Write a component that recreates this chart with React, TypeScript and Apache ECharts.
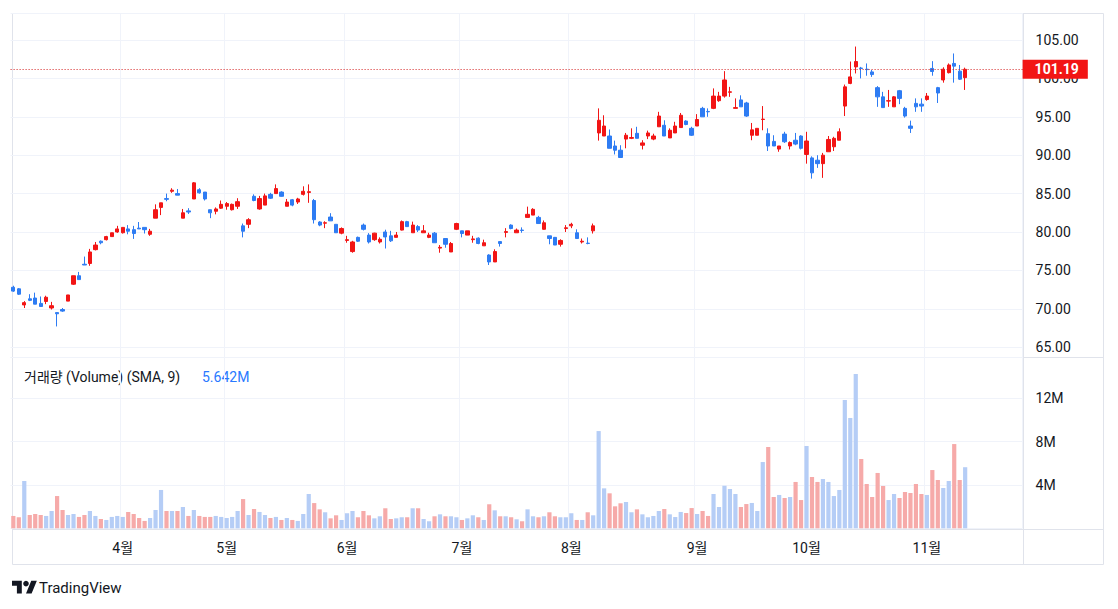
import { useEffect, useRef } from 'react';
import * as echarts from 'echarts';

// ---------- data ----------
const open = [
  72.8, 72.6, 70.5, 71.3, 71.4, 70.7, 70.95, 70.1, 69.5, 69.9,
  71.0, 73.2, 74.3, 75.8, 75.9, 77.7, 78.8, 79.0, 79.4, 80.0,
  79.9, 80.4, 80.3, 80.5, 80.6, 79.7, 81.8, 83.2, 84.35, 85.3,
  85.0, 81.8, 82.75, 84.3, 85.5, 85.2, 82.9, 82.7, 83.1, 83.35,
  82.9, 83.35, 80.8, 81.0, 84.65, 83.0, 83.5, 84.9, 85.0, 85.2,
  83.35, 84.2, 83.9, 84.9, 85.15, 84.1, 81.3, 81.15, 81.95, 81.0,
  79.85, 78.9, 77.45, 79.3, 80.9, 79.6, 79.0, 78.7, 80.0, 79.5,
  79.3, 80.25, 81.35, 79.9, 80.7, 79.9, 79.3, 79.85, 77.9, 79.15,
  77.4, 80.35, 80.15, 79.6, 79.0, 79.2, 78.2, 77.0, 76.1, 78.75,
  79.95, 80.9, 79.9, 80.25, 81.9, 82.2, 81.9, 80.35, 79.5, 79.3,
  78.4, 80.45, 80.8, 79.9, 78.7, 78.55, 80.15, 92.9, 92.5, 92.5,
  91.2, 90.65, 92.1, 92.2, 92.85, 91.3, 92.5, 92.1, 93.7, 93.9,
  92.25, 92.9, 93.6, 94.45, 93.5, 93.8, 96.1, 95.7, 96.1, 97.1,
  97.7, 98.2, 96.1, 97.2, 96.8, 92.6, 92.6, 94.65, 92.8, 91.8,
  90.8, 92.75, 91.2, 91.95, 92.5, 90.1, 89.65, 89.35, 88.9, 90.45,
  91.1, 91.95, 96.4, 99.35, 101.5, 101.35, 101.2, 100.85, 98.8, 97.6,
  97.05, 96.3, 98.4, 96.1, 93.8, 96.75, 96.65, 97.25, 101.3, 98.8,
  99.8, 100.75, 101.95, 100.95, 100.1,
];
const close = [
  72.3, 71.9, 70.8, 71.1, 70.6, 70.3, 71.5, 70.4, 69.35, 69.7,
  71.8, 74.3, 73.8, 75.7, 77.4, 78.3, 78.6, 79.4, 79.9, 80.4,
  80.6, 80.1, 79.8, 80.4, 80.3, 80.1, 82.9, 83.8, 84.25, 85.45,
  84.8, 82.5, 82.6, 86.4, 85.1, 84.3, 82.5, 83.0, 83.6, 83.7,
  83.6, 83.95, 80.1, 81.6, 84.1, 84.35, 84.7, 84.4, 85.65, 84.65,
  83.9, 83.5, 84.3, 85.3, 85.25, 81.6, 80.9, 81.2, 81.45, 79.9,
  80.45, 79.0, 78.7, 78.8, 80.35, 78.7, 79.85, 79.05, 79.35, 78.85,
  79.6, 81.35, 80.7, 80.9, 80.25, 80.15, 79.6, 78.6, 78.0, 78.4,
  78.5, 81.1, 79.8, 80.15, 79.1, 78.5, 78.6, 76.1, 77.45, 78.5,
  80.05, 80.45, 80.25, 80.2, 82.3, 82.95, 81.1, 81.2, 79.15, 78.3,
  78.9, 80.55, 81.0, 79.15, 78.8, 78.5, 80.8, 94.55, 93.8, 90.9,
  90.65, 89.7, 92.6, 92.3, 92.2, 91.6, 92.9, 92.5, 95.1, 92.5,
  93.25, 93.8, 95.2, 94.0, 92.6, 94.65, 95.0, 95.65, 97.7, 97.7,
  99.8, 98.25, 96.2, 96.3, 95.1, 93.3, 93.5, 94.7, 91.2, 91.2,
  91.2, 91.75, 91.65, 91.45, 90.9, 91.85, 87.7, 88.9, 90.0, 92.05,
  92.2, 93.05, 98.9, 100.2, 102.2, 101.3, 101.15, 100.5, 97.6, 96.2,
  97.1, 97.6, 97.4, 95.1, 93.5, 96.3, 96.4, 97.7, 100.9, 98.1,
  101.2, 101.75, 101.6, 99.9, 101.19,
];
const low = [
  72.2, 71.8, 70.1, 71.0, 70.6, 70.3, 70.6, 69.9, 67.7, 69.6,
  71.0, 73.1, 73.8, 75.7, 75.6, 77.6, 78.4, 78.9, 79.4, 79.9,
  79.8, 79.7, 79.1, 80.4, 79.8, 79.5, 81.8, 82.2, 84.0, 85.1,
  84.8, 81.8, 82.35, 84.3, 85.0, 84.1, 81.8, 82.3, 83.0, 82.9,
  82.8, 83.0, 79.3, 80.5, 84.0, 82.9, 83.5, 84.3, 85.0, 84.6,
  83.35, 83.35, 83.65, 84.75, 83.8, 81.1, 80.75, 80.5, 81.45, 79.9,
  79.7, 78.6, 77.3, 78.7, 80.2, 78.5, 78.85, 78.5, 77.85, 78.7,
  79.3, 80.2, 80.65, 79.9, 80.0, 79.9, 79.2, 78.6, 77.3, 77.95,
  77.4, 80.25, 79.3, 79.6, 78.6, 78.4, 78.2, 75.7, 76.1, 78.1,
  79.3, 80.35, 79.9, 79.9, 81.9, 82.2, 81.1, 80.3, 78.4, 78.3,
  78.1, 80.0, 80.5, 79.15, 78.5, 78.4, 79.8, 91.9, 92.5, 90.9,
  90.1, 89.7, 90.9, 92.1, 92.2, 90.75, 92.1, 91.95, 93.7, 92.5,
  92.25, 92.9, 93.6, 93.9, 92.5, 93.8, 95.0, 95.0, 96.0, 96.95,
  97.5, 97.6, 96.1, 96.3, 95.0, 91.95, 92.6, 93.25, 90.55, 91.2,
  90.45, 91.6, 90.75, 91.3, 90.75, 88.9, 86.95, 88.35, 87.05, 90.45,
  90.55, 91.95, 95.1, 99.25, 100.65, 100.0, 100.35, 100.2, 96.3, 96.2,
  96.3, 96.3, 96.65, 94.9, 92.9, 95.65, 95.65, 97.1, 100.35, 96.8,
  99.45, 100.65, 99.45, 99.8, 98.5,
];
const high = [
  73.0, 72.7, 71.0, 71.9, 72.1, 71.6, 71.7, 70.9, 69.5, 70.1,
  71.8, 74.3, 74.8, 76.8, 77.8, 78.7, 78.9, 79.5, 79.9, 80.8,
  80.6, 80.9, 80.8, 81.3, 80.6, 80.4, 83.6, 83.8, 85.0, 85.7,
  85.6, 83.0, 83.1, 86.5, 85.7, 85.2, 82.9, 83.2, 84.1, 83.9,
  83.7, 84.4, 81.1, 81.8, 84.9, 84.7, 85.0, 85.1, 86.2, 85.3,
  84.3, 84.3, 84.45, 85.95, 86.2, 84.3, 81.4, 81.4, 82.45, 81.0,
  80.6, 79.5, 78.85, 79.4, 81.1, 79.85, 79.9, 79.3, 80.3, 80.15,
  80.0, 81.5, 81.45, 81.35, 80.9, 80.9, 79.9, 80.0, 78.3, 79.15,
  78.7, 81.2, 80.15, 80.15, 79.5, 79.3, 79.0, 77.1, 77.75, 78.75,
  80.5, 81.0, 80.45, 80.6, 83.3, 83.1, 82.1, 81.5, 79.5, 79.35,
  79.05, 80.9, 81.2, 80.35, 79.15, 79.3, 81.1, 96.1, 95.2, 93.35,
  91.9, 91.3, 92.9, 93.5, 93.7, 91.95, 93.2, 92.8, 95.65, 94.55,
  93.5, 94.35, 95.5, 94.55, 93.7, 95.35, 96.3, 96.1, 98.7, 98.25,
  100.95, 98.9, 97.4, 97.8, 96.95, 94.2, 93.5, 96.4, 93.5, 92.6,
  91.2, 93.05, 91.8, 92.9, 92.6, 93.05, 89.85, 90.0, 90.3, 92.5,
  92.4, 93.5, 99.2, 102.2, 104.15, 101.5, 101.95, 101.1, 99.0, 98.25,
  98.5, 97.7, 98.5, 96.3, 94.5, 97.4, 97.4, 98.1, 102.25, 98.9,
  101.45, 101.95, 103.25, 101.75, 101.4,
];
// volume in millions
const volumeM = [
  1.14, 1.02, 4.37, 1.23, 1.32, 1.23, 1.14, 1.6, 2.98, 1.69,
  1.23, 1.32, 1.05, 1.23, 1.6, 1.14, 0.86, 0.77, 1.05, 1.14,
  1.05, 1.51, 1.32, 0.95, 0.68, 0.95, 1.69, 3.54, 1.6, 1.6,
  1.6, 1.97, 1.14, 1.69, 1.14, 1.05, 1.05, 1.14, 1.05, 0.95,
  1.05, 1.6, 2.7, 1.23, 1.78, 1.51, 1.23, 0.95, 1.05, 0.77,
  0.95, 0.77, 0.68, 1.32, 3.17, 2.33, 1.75, 1.48, 0.92, 1.2,
  0.77, 1.39, 1.6, 1.02, 1.6, 1.2, 0.92, 1.11, 1.85, 0.86,
  0.92, 1.02, 1.02, 1.85, 1.85, 0.86, 0.65, 1.11, 1.29, 1.11,
  1.11, 1.02, 0.77, 0.92, 1.2, 1.02, 0.77, 2.22, 1.66, 1.11,
  1.11, 1.02, 0.83, 0.65, 1.75, 1.11, 1.02, 1.11, 1.48, 1.11,
  1.02, 1.02, 1.39, 0.77, 0.77, 1.48, 1.2, 8.98, 3.69, 3.23,
  2.03, 2.31, 2.43, 1.48, 1.75, 1.29, 1.02, 1.14, 1.6, 1.78,
  1.29, 1.04, 1.51, 1.41, 1.87, 1.32, 1.6, 1.14, 3.17, 1.97,
  3.93, 3.63, 3.17, 1.97, 2.24, 2.34, 1.6, 6.12, 7.51, 2.89,
  3.08, 2.8, 2.89, 4.28, 2.61, 7.6, 4.74, 4.28, 4.55, 4.28,
  2.98, 3.54, 11.85, 10.19, 14.25, 6.4, 4.09, 2.89, 5.11, 3.91,
  2.61, 3.17, 2.8, 3.35, 3.26, 4.09, 3.17, 3.08, 5.38, 4.46,
  3.72, 4.37, 7.78, 4.46, 5.642,
];
const monthLabels = ['4월', '5월', '6월', '7월', '8월', '9월', '10월', '11월'];
const monthStartIndex = [20, 39, 61, 82, 102, 125, 145, 167];
const lastPrice = 101.19;
const lastVolumeM = 5.642;
const totalSlots = 185; // trading-day slots incl. right-hand empty space

// ---------- styles ----------
const UP = '#f21515';
const DOWN = '#2e7cf3';
const VOL_UP = '#b5cdf6';
const VOL_DOWN = '#f6aaa9';
const GRID = '#f0f3fa';
const BORDER = '#e0e3eb';
const TEXT = '#131722';
const FONT = 'Roboto, "Noto Sans CJK KR", sans-serif';

echarts.graphic.registerShape(
  'tvlogo',
  echarts.graphic.extendPath('M14 22H7V11H0V4h14v18zM28 22h-8l7.5-18h8L28 22z', {}) as any
);

export default function App() {
  const ref = useRef<HTMLDivElement>(null);

  useEffect(() => {
    document.body.style.margin = '0';
    const chart = echarts.init(ref.current!, null, { renderer: 'svg' });

    const labelAt: Record<number, string> = {};
    monthStartIndex.forEach((idx, k) => (labelAt[idx] = monthLabels[k]));
    const cats = Array.from({ length: totalSlots }, (_, i) => labelAt[i] ?? `d${i}`);
    const isMonthStart = (i: number) => labelAt[i] !== undefined;

    const candles = open.map((o, i) => [o, close[i], low[i], high[i]]);
    const vols = volumeM.map((v, i) => ({
      value: v * 1e6,
      itemStyle: { color: close[i] >= open[i] ? VOL_UP : VOL_DOWN },
    }));

    const gridLeft = 10.6;
    const gridWidth = 1012;

    const xBase = {
      type: 'category' as const,
      data: cats,
      boundaryGap: true,
      axisLine: { show: false },
      axisTick: { show: false },
      splitLine: {
        show: true,
        interval: (i: number) => isMonthStart(i),
        lineStyle: { color: GRID, width: 1 },
      },
    };

    chart.setOption({
      animation: false,
      backgroundColor: '#ffffff',
      textStyle: { fontFamily: FONT },
      grid: [
        { left: gridLeft, width: gridWidth, top: 13, height: 344 },
        { left: gridLeft, width: gridWidth, top: 357, height: 171.3 },
      ],
      xAxis: [
        { ...xBase, gridIndex: 0, axisLabel: { show: false } },
        {
          ...xBase,
          gridIndex: 1,
          axisLabel: {
            show: true,
            interval: (i: number) => isMonthStart(i),
            formatter: (v: string) => (v.startsWith('d') ? '' : v),
            color: TEXT,
            fontSize: 14,
            margin: 13,
            fontFamily: FONT,
          },
        },
      ],
      yAxis: [
        {
          gridIndex: 0,
          type: 'value',
          position: 'right',
          min: 63.72,
          max: 108.52,
          splitNumber: 9,
          minInterval: 5,
          maxInterval: 5,
          axisLine: { show: false },
          axisTick: { show: false },
          axisLabel: {
            showMinLabel: false,
            showMaxLabel: false,
            formatter: (v: number) => v.toFixed(2),
            color: TEXT,
            fontSize: 14,
            margin: 13,
            fontFamily: FONT,
          },
          splitLine: { lineStyle: { color: GRID, width: 1 } },
        },
        {
          gridIndex: 1,
          type: 'value',
          position: 'right',
          min: 0,
          max: 15.82e6,
          splitNumber: 4,
          minInterval: 4e6,
          maxInterval: 4e6,
          axisLine: { show: false },
          axisTick: { show: false },
          axisLabel: {
            showMinLabel: false,
            showMaxLabel: false,
            formatter: (v: number) => `${Math.round(v / 1e6)}M`,
            color: TEXT,
            fontSize: 14,
            margin: 13,
            fontFamily: FONT,
          },
          splitLine: { lineStyle: { color: GRID, width: 1 } },
        },
      ],
      series: [
        {
          type: 'candlestick',
          xAxisIndex: 0,
          yAxisIndex: 0,
          data: candles,
          barWidth: 3.8,
          clip: true,
          itemStyle: {
            color: UP,
            color0: DOWN,
            borderColor: UP,
            borderColor0: DOWN,
            borderWidth: 1,
          },
          markLine: {
            silent: true,
            symbol: ['none', 'none'],
            data: [{ yAxis: lastPrice }],
            lineStyle: { color: '#d42020', type: [1, 2], width: 1 },
            label: {
              show: true,
              position: 'end',
              distance: 0,
              formatter: lastPrice.toFixed(2),
              backgroundColor: UP,
              color: '#ffffff',
              fontWeight: 'bold',
              fontSize: 14,
              fontFamily: FONT,
              padding: [3, 9, 2, 12],
            },
          },
        },
        {
          type: 'bar',
          xAxisIndex: 1,
          yAxisIndex: 1,
          data: vols,
          barWidth: 4.2,
          markLine: {
            silent: true,
            symbol: ['none', 'none'],
            data: [{ yAxis: lastVolumeM * 1e6 }],
            lineStyle: { opacity: 0, width: 0 },
            label: {
              show: true,
              position: 'end',
              distance: 0,
              formatter: `${lastVolumeM.toFixed(3)}M`,
              backgroundColor: '#2979ff',
              color: '#ffffff',
              fontSize: 14,
              fontFamily: FONT,
              padding: [3, 7, 2, 12],
            },
          },
        },
      ],
      graphic: [
        { type: 'rect', silent: true, shape: { x: 12.5, y: 13.5, width: 1091, height: 551 }, style: { fill: 'none', stroke: BORDER, lineWidth: 1 } },
        { type: 'line', silent: true, shape: { x1: 1023.5, y1: 13, x2: 1023.5, y2: 565 }, style: { stroke: BORDER, lineWidth: 1 } },
        { type: 'line', silent: true, shape: { x1: 12, y1: 357.5, x2: 1104, y2: 357.5 }, style: { stroke: BORDER, lineWidth: 1 } },
        { type: 'line', silent: true, shape: { x1: 12, y1: 529.5, x2: 1104, y2: 529.5 }, style: { stroke: BORDER, lineWidth: 1 } },
        {
          type: 'text',
          silent: true,
          x: 24,
          y: 377,
          style: { text: '거래량 (Volume) (SMA, 9)', fill: TEXT, font: `14px ${FONT}`, verticalAlign: 'middle' },
        },
        {
          type: 'text',
          silent: true,
          x: 202,
          y: 377,
          style: { text: `${lastVolumeM.toFixed(3)}M`, fill: '#2979ff', font: `14px ${FONT}`, verticalAlign: 'middle' },
        },
        { type: 'tvlogo', silent: true, x: 12, y: 578, scaleX: 0.7, scaleY: 0.7, style: { fill: TEXT } },
        { type: 'circle', silent: true, shape: { cx: 26, cy: 583.6, r: 2.8 }, style: { fill: TEXT } },
        {
          type: 'text',
          silent: true,
          x: 39,
          y: 588,
          style: { text: 'TradingView', fill: TEXT, font: `15px ${FONT}`, verticalAlign: 'middle' },
        },
      ],
    });

    return () => chart.dispose();
  }, []);

  return (
    <div
      ref={ref}
      style={{ position: 'fixed', left: 0, top: 0, width: 1118, height: 609, background: '#fff' }}
    />
  );
}
